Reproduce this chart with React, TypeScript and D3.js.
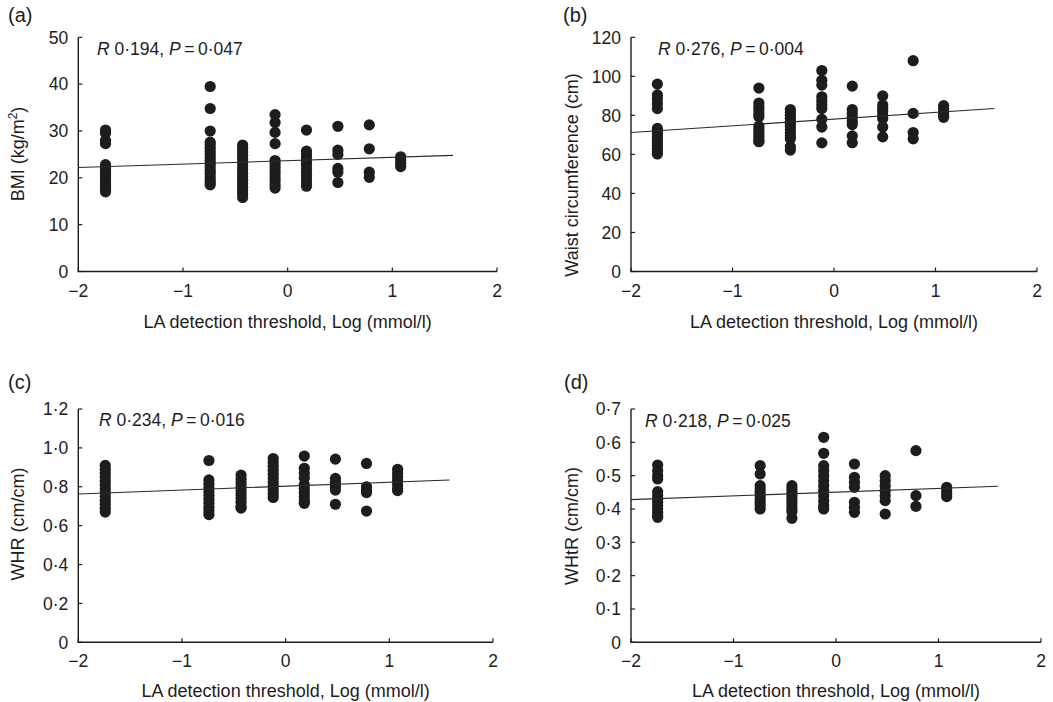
import React from "react";
import * as d3 from "d3";

// x positions of the threshold groups, Log (mmol/l)
const xGroups = [-1.74, -0.74, -0.43, -0.12, 0.18, 0.48, 0.78, 1.08];

// BMI (kg/m2) values per group
const bmiValues = [
  [30.2, 29.5, 28.0, 27.3, 22.8, 22.2, 21.6, 21.0, 20.4, 19.8, 19.2, 18.6, 18.0, 17.4, 17.0],
  [39.5, 34.8, 30.0, 27.6, 27.0, 26.3, 25.6, 25.0, 24.3, 23.6, 23.0, 22.3, 21.6, 21.0, 20.3, 19.6, 19.0, 18.5],
  [27.0, 26.3, 25.5, 24.8, 24.0, 23.3, 22.5, 21.8, 21.0, 20.3, 19.5, 18.8, 18.0, 17.3, 16.6, 15.8],
  [33.5, 31.8, 29.7, 27.3, 23.7, 23.0, 22.3, 21.5, 20.8, 20.0, 19.3, 18.5, 17.8],
  [30.2, 25.7, 25.0, 24.3, 23.5, 22.8, 22.0, 21.3, 20.5, 19.8, 19.0, 18.2],
  [31.0, 25.9, 25.0, 22.0, 21.2, 19.0],
  [31.3, 26.2, 21.2, 20.1],
  [24.5, 23.8, 23.1, 22.4],
];

// Waist circumference (cm) values per group
const waistValues = [
  [96.0, 90.5, 88.5, 86.0, 83.5, 73.3, 72.0, 70.5, 69.0, 67.5, 66.0, 64.5, 63.0, 61.5, 60.2],
  [94.0, 86.3, 84.5, 83.0, 81.0, 79.3, 74.5, 73.0, 71.5, 70.0, 68.5, 67.0, 66.5],
  [83.0, 81.5, 80.0, 78.5, 77.0, 75.5, 74.0, 72.5, 71.0, 69.5, 68.0, 64.0, 62.2],
  [103.0, 98.0, 95.5, 89.5, 87.5, 85.5, 83.5, 78.0, 74.0, 65.9],
  [95.0, 83.0, 81.0, 79.0, 77.0, 75.3, 69.5, 66.0],
  [90.0, 85.3, 83.5, 82.0, 80.0, 78.4, 74.0, 69.0],
  [108.0, 81.0, 71.2, 68.0],
  [85.0, 83.5, 82.0, 80.5, 79.0],
];

// WHR (cm/cm) values per group
const whrValues = [
  [0.91, 0.89, 0.87, 0.85, 0.83, 0.81, 0.79, 0.77, 0.75, 0.73, 0.71, 0.69, 0.67],
  [0.935, 0.835, 0.815, 0.795, 0.775, 0.755, 0.735, 0.715, 0.695, 0.675, 0.657],
  [0.86, 0.84, 0.82, 0.80, 0.78, 0.76, 0.74, 0.72, 0.70, 0.69],
  [0.945, 0.925, 0.905, 0.885, 0.865, 0.845, 0.825, 0.805, 0.785, 0.765, 0.745],
  [0.958, 0.895, 0.87, 0.845, 0.81, 0.79, 0.77, 0.75, 0.73, 0.715],
  [0.942, 0.843, 0.823, 0.803, 0.783, 0.71],
  [0.92, 0.80, 0.785, 0.77, 0.675],
  [0.89, 0.87, 0.85, 0.83, 0.81, 0.79, 0.78],
];

// WHtR (cm/cm) values per group
const whtrValues = [
  [0.532, 0.515, 0.50, 0.49, 0.452, 0.44, 0.43, 0.42, 0.41, 0.40, 0.39, 0.38, 0.375],
  [0.53, 0.505, 0.47, 0.46, 0.45, 0.44, 0.43, 0.42, 0.41, 0.40],
  [0.47, 0.46, 0.45, 0.44, 0.43, 0.42, 0.41, 0.40, 0.392, 0.372],
  [0.615, 0.567, 0.53, 0.515, 0.50, 0.485, 0.47, 0.455, 0.44, 0.425, 0.41, 0.40],
  [0.535, 0.495, 0.48, 0.465, 0.42, 0.405, 0.39],
  [0.50, 0.485, 0.47, 0.455, 0.44, 0.425, 0.385],
  [0.575, 0.44, 0.408],
  [0.465, 0.455, 0.445, 0.437],
];

// regression lines: x extent and y at each end
const regX = [-2, 1.58];
const bmiLine = [22.2, 24.8];
const waistLine = [71.2, 83.5];
const whrLine = [0.763, 0.835];
const whtrLine = [0.428, 0.468];

const xTicks = [-2, -1, 0, 1, 2];
const bmiTicks = [0, 10, 20, 30, 40, 50];
const waistTicks = [0, 20, 40, 60, 80, 100, 120];
const whrTicks = [0, 0.2, 0.4, 0.6, 0.8, 1.0, 1.2];
const whtrTicks = [0, 0.1, 0.2, 0.3, 0.4, 0.5, 0.6, 0.7];

const panelLetters = ["(a)", "(b)", "(c)", "(d)"];
const stats = [
  ["0·194", "0·047"],
  ["0·276", "0·004"],
  ["0·234", "0·016"],
  ["0·218", "0·025"],
];
const xTitle = "LA detection threshold, Log (mmol/l)";

const FONT = "'Liberation Sans', Arial, Helvetica, sans-serif";
const INK = "#1e1c1d";

const fmtX = (v: number) => (v < 0 ? "\u2212" + Math.abs(v) : String(v));
const fmtDec = (digits: number) => (v: number) =>
  v === 0 ? "0" : v.toFixed(digits).replace(".", "·");

type PanelProps = {
  letter: string;
  letterX: number;
  letterY: number;
  left: number;
  right: number;
  top: number;
  bottom: number;
  yMax: number;
  yTicks: number[];
  fmtY: (v: number) => string;
  values: number[][];
  line: number[];
  stat: string[];
  statX: number;
  statY: number;
  yTitle: React.ReactNode;
  yTitleX: number;
  yTitleY: number;
  xTitleY: number;
};

function Panel(p: PanelProps) {
  const x = d3.scaleLinear().domain([-2, 2]).range([p.left, p.right]);
  const y = d3.scaleLinear().domain([0, p.yMax]).range([p.bottom, p.top]);
  const pts: [number, number][] = [];
  p.values.forEach((col, i) => col.forEach((v) => pts.push([xGroups[i], v])));
  const lineGen = d3
    .line<[number, number]>()
    .x((d) => x(d[0]))
    .y((d) => y(d[1]));
  const regPts: [number, number][] = [
    [regX[0], p.line[0]],
    [regX[1], p.line[1]],
  ];
  const tickLen = 4;
  return (
    <g fontFamily={FONT} fill={INK}>
      <text x={p.letterX} y={p.letterY} fontSize={20}>
        {p.letter}
      </text>
      {/* axes */}
      <path
        d={`M${p.left},${p.top}V${p.bottom}H${p.right}`}
        fill="none"
        stroke={INK}
        strokeWidth={1.4}
      />
      {p.yTicks.map((t) => (
        <g key={"y" + t}>
          <line x1={p.left} x2={p.left + tickLen} y1={y(t)} y2={y(t)} stroke={INK} strokeWidth={1.2} />
          <text x={p.left - 10} y={y(t)} dy="0.36em" textAnchor="end" fontSize={17.5}>
            {p.fmtY(t)}
          </text>
        </g>
      ))}
      {xTicks.map((t) => (
        <g key={"x" + t}>
          <line x1={x(t)} x2={x(t)} y1={p.bottom} y2={p.bottom - tickLen} stroke={INK} strokeWidth={1.2} />
          <text x={x(t)} y={p.bottom + 25} textAnchor="middle" fontSize={17.5}>
            {fmtX(t)}
          </text>
        </g>
      ))}
      <text x={(p.left + p.right) / 2} y={p.xTitleY} textAnchor="middle" fontSize={18}>
        {xTitle}
      </text>
      <text
        transform={`translate(${p.yTitleX},${p.yTitleY}) rotate(-90)`}
        textAnchor="middle"
        dy="0.35em"
        fontSize={18}
      >
        {p.yTitle}
      </text>
      {/* points */}
      {pts.map((d, i) => (
        <circle key={i} cx={x(d[0])} cy={y(d[1])} r={5.6} fill={INK} />
      ))}
      <path d={lineGen(regPts) || ""} fill="none" stroke="#2a2a2a" strokeWidth={1.1} />
      <text x={p.statX} y={p.statY} fontSize={17.5}>
        <tspan fontStyle="italic">R</tspan>
        {" " + p.stat[0] + ", "}
        <tspan fontStyle="italic">P</tspan>
        {"\u2009=\u2009" + p.stat[1]}
      </text>
    </g>
  );
}

export default function App() {
  return (
    <svg
      width={1053}
      height={702}
      viewBox="0 0 1053 702"
      style={{ position: "absolute", left: 0, top: 0, background: "#fff" }}
    >
      <rect width={1053} height={702} fill="#fff" />
      <Panel
        letter={panelLetters[0]}
        letterX={8}
        letterY={22}
        left={78.3}
        right={497}
        top={37.3}
        bottom={271.5}
        yMax={50}
        yTicks={bmiTicks}
        fmtY={(v) => String(v)}
        values={bmiValues}
        line={bmiLine}
        stat={stats[0]}
        statX={97}
        statY={55}
        yTitle={
          <>
            {"BMI (kg/m"}
            <tspan dy={-7} fontSize={12}>
              2
            </tspan>
            <tspan dy={7}>)</tspan>
          </>
        }
        yTitleX={18}
        yTitleY={154}
        xTitleY={328}
      />
      <Panel
        letter={panelLetters[1]}
        letterX={563}
        letterY={22}
        left={631}
        right={1037}
        top={37.3}
        bottom={271.5}
        yMax={120}
        yTicks={waistTicks}
        fmtY={(v) => String(v)}
        values={waistValues}
        line={waistLine}
        stat={stats[1]}
        statX={658}
        statY={55}
        yTitle={"Waist circumference (cm)"}
        yTitleX={572}
        yTitleY={175}
        xTitleY={328}
      />
      <Panel
        letter={panelLetters[2]}
        letterX={8}
        letterY={389}
        left={78.3}
        right={493}
        top={409}
        bottom={642.3}
        yMax={1.2}
        yTicks={whrTicks}
        fmtY={fmtDec(1)}
        values={whrValues}
        line={whrLine}
        stat={stats[2]}
        statX={99}
        statY={426}
        yTitle={"WHR (cm/cm)"}
        yTitleX={18}
        yTitleY={524}
        xTitleY={697}
      />
      <Panel
        letter={panelLetters[3]}
        letterX={564}
        letterY={389}
        left={631}
        right={1041}
        top={409}
        bottom={642.3}
        yMax={0.7}
        yTicks={whtrTicks}
        fmtY={fmtDec(1)}
        values={whtrValues}
        line={whtrLine}
        stat={stats[3]}
        statX={645}
        statY={427}
        yTitle={"WHtR (cm/cm)"}
        yTitleX={572}
        yTitleY={526}
        xTitleY={697}
      />
    </svg>
  );
}
